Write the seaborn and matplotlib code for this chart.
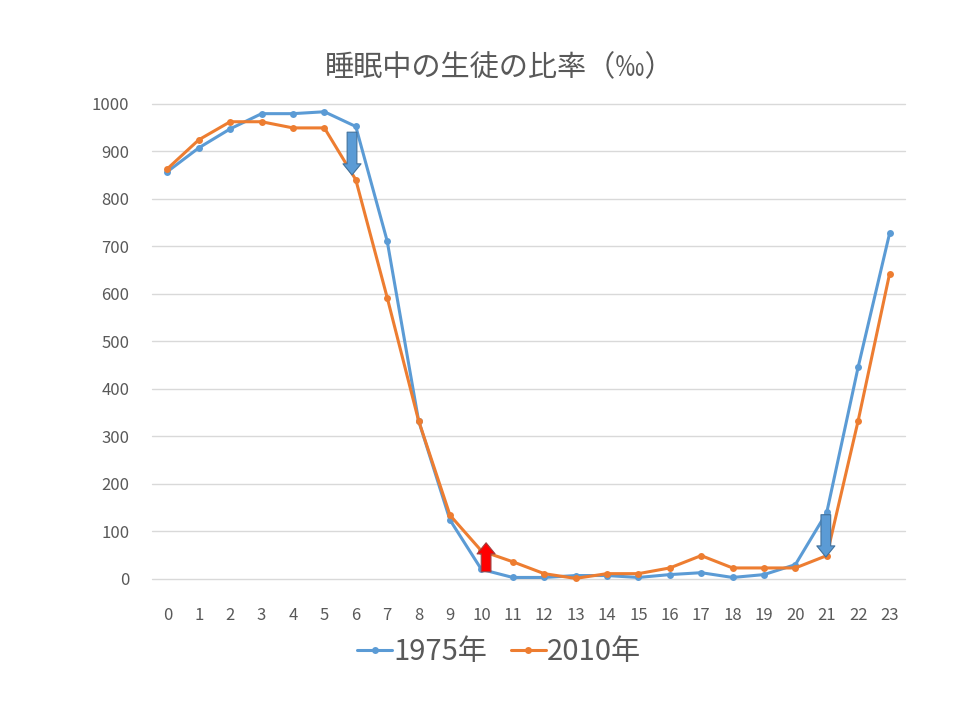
import pandas as pd
import matplotlib
matplotlib.use("Agg")
import matplotlib.pyplot as plt
import seaborn as sns

# Hours of the day and share of students asleep (per mille)
hours = list(range(24))
sleep_1975 = [857, 907, 947, 979, 979, 983, 952, 711, 333, 124, 20, 3,
              3, 7, 7, 3, 9, 13, 3, 9, 30, 140, 446, 727]
sleep_2010 = [863, 924, 962, 962, 949, 949, 840, 592, 333, 134, 59, 36,
              11, 1, 11, 11, 23, 49, 23, 23, 23, 49, 333, 642]
series_names = ["1975年", "2010年"]
title_text = "睡眠中の生徒の比率（‰）"

# Arrows highlighting the change between the two years
arrow_hours = [5.88, 10.15, 20.97]
arrow_from = [940, 15, 135]
arrow_to = [850, 76, 46]
arrow_fill = ["#5B9BD5", "#FF0000", "#5B9BD5"]
arrow_edge = ["#41719C", "#A04040", "#41719C"]

sns.set_theme(style="white")
plt.rcParams['font.family'] = ['Noto Sans CJK JP', 'DejaVu Sans']

df = pd.DataFrame({
    "hour": hours * 2,
    "value": sleep_1975 + sleep_2010,
    "year": [series_names[0]] * 24 + [series_names[1]] * 24,
})

fig = plt.figure(figsize=(9.6, 7.2), dpi=100)
ax = fig.add_axes([0.158, 0.196, 0.785, 0.66])

palette = {series_names[0]: "#5B9BD5", series_names[1]: "#ED7D31"}
sns.lineplot(data=df, x="hour", y="value", hue="year", palette=palette,
             marker="o", markersize=5, markeredgewidth=0, linewidth=2.2,
             ax=ax, clip_on=False)

for x, y0, y1, fc, ec in zip(arrow_hours, arrow_from, arrow_to, arrow_fill, arrow_edge):
    ax.annotate("", xy=(x, y1), xytext=(x, y0),
                arrowprops=dict(arrowstyle="simple,head_length=0.8,head_width=1.3,tail_width=0.7",
                                mutation_scale=10, fc=fc, ec=ec, lw=0.8,
                                shrinkA=0, shrinkB=0))

ax.set_xlim(-0.5, 23.5)
ax.set_ylim(0, 1000)
ax.set_xticks(hours)
ax.set_yticks(range(0, 1001, 100))
ax.set_axisbelow(True)
ax.yaxis.grid(True, color="#D9D9D9", linewidth=1)
ax.xaxis.grid(False)
for line in ax.get_ygridlines():
    line.set_clip_on(False)
for s in ax.spines.values():
    s.set_visible(False)
ax.tick_params(axis="both", length=0, labelsize=12, colors="#595959")
ax.tick_params(axis="x", pad=20)
ax.tick_params(axis="y", pad=16)
ax.set_xlabel("")
ax.set_ylabel("")

fig.text(0.52, 0.905, title_text, ha="center", va="center",
         fontsize=21, color="#595959")

handles, labels = ax.get_legend_handles_labels()
ax.legend_.remove()
fig.legend(handles, labels, loc="center", bbox_to_anchor=(0.52, 0.094),
           ncol=2, frameon=False, fontsize=21, labelcolor="#595959",
           handlelength=1.2, handletextpad=0.05, columnspacing=0.8)

plt.savefig("out.png", dpi=100)
